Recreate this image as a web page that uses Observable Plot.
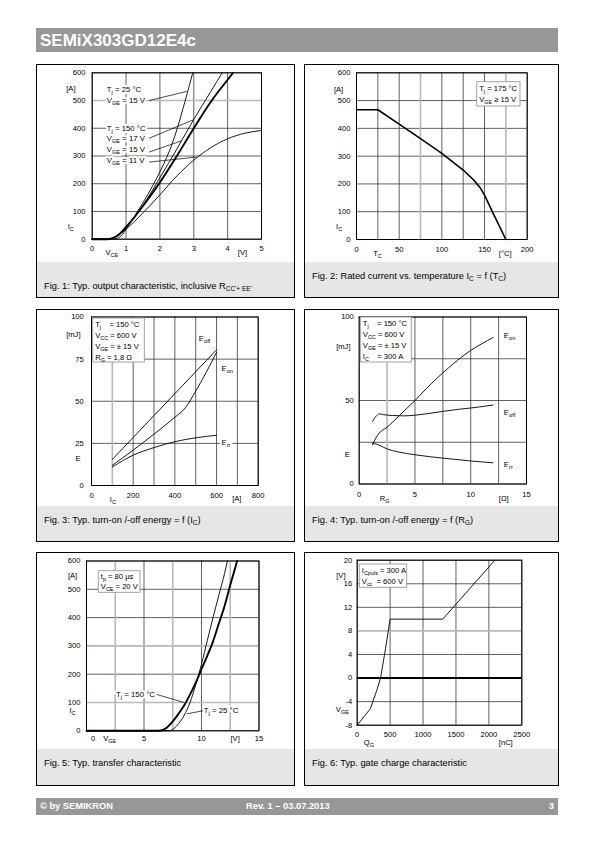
<!DOCTYPE html>
<html><head><meta charset="utf-8">
<script src="https://cdn.jsdelivr.net/npm/d3@7"></script>
<script src="https://cdn.jsdelivr.net/npm/@observablehq/plot@0.6"></script>
<style>
body{margin:0;background:#fff;}
#page{position:relative;width:595px;height:842px;font-family:"Liberation Sans",Arial,Helvetica,sans-serif;overflow:hidden;}
.bar{position:absolute;background:#979797;color:#fff;font-weight:bold;white-space:nowrap;}
.panel{position:absolute;border:1px solid #000;box-sizing:border-box;}
.band{position:absolute;left:0;right:0;bottom:0;background:#e6e6e6;}
.cap{position:absolute;left:7px;font-size:9.3px;color:#000;white-space:nowrap;line-height:10px;}
.cap sub{font-size:70%;vertical-align:-0.3em;line-height:0;}
.chart{position:absolute;}
.chart svg{overflow:visible;}
</style></head>
<body><div id="page"></div>
<script>
// ---------- DATA ----------
const title = "SEMiX303GD12E4c";
const footerLeft = "© by SEMIKRON", footerMid = "Rev. 1 – 03.07.2013", footerRight = "3";
const captions = [
  "Fig. 1: Typ. output characteristic, inclusive R<sub>CC'+ EE'</sub>",
  "Fig. 2: Rated current vs. temperature I<sub>C</sub> = f (T<sub>C</sub>)",
  "Fig. 3: Typ. turn-on /-off energy = f (I<sub>C</sub>)",
  "Fig. 4: Typ. turn-on /-off energy = f (R<sub>G</sub>)",
  "Fig. 5: Typ. transfer characteristic",
  "Fig. 6: Typ. gate charge characteristic"
];

// Fig 1: I_C [A] vs V_CE [V]
const f1Tj25V15 = [[0,0],[0.6,0],[0.75,4],[0.9,18],[1.0,36],[1.2,72],[1.4,112],[1.6,152],[1.8,196],[2.0,243],[2.2,295],[2.35,340],[2.5,395],[2.74,497],[2.97,600]];
const f1Tj150V17 = [[0,0],[0.45,0],[0.6,4],[0.8,18],[1.0,42],[1.25,80],[1.5,122],[2.0,222],[2.5,325],[3.0,432],[3.5,532],[3.84,600]];
const f1Tj150V15 = [[0,0],[0.45,0],[0.6,4],[0.8,18],[1.0,44],[1.25,80],[1.5,120],[2.0,205],[2.5,300],[3.0,400],[3.5,495],[4.0,575],[4.16,600]];
const f1Tj150V11 = [[0,0],[0.45,0],[0.6,4],[0.8,17],[1.0,36],[1.25,64],[1.5,95],[2.0,160],[2.5,228],[3.0,285],[3.5,330],[4.0,362],[4.5,382],[5.0,392]];
const f1Labels = [
  {x:0.43,y:538,text:"T_{j} = 25 °C"},{x:0.43,y:500,text:"V_{GE} = 15 V"},
  {x:0.43,y:400,text:"T_{j} = 150 °C"},{x:0.43,y:364,text:"V_{GE} = 17 V"},
  {x:0.43,y:323,text:"V_{GE} = 15 V"},{x:0.43,y:283,text:"V_{GE} = 11 V"}];
const f1Leaders = [{x1:1.68,y1:500,x2:2.8,y2:533},{x1:1.68,y1:364,x2:2.98,y2:430},{x1:1.68,y1:314,x2:2.62,y2:354},{x1:1.68,y1:278,x2:3.08,y2:296}];
const f1XTicks = [0,1,2,3,4,5], f1YTicks = [0,100,200,300,400,500,600];

// Fig 2: I_C [A] vs T_C [°C]
const f2Curve = [[0,467],[25,467],[50,415],[75,363],[100,310],[125,250],[137,215],[145,186],[150,160],[160,95],[175,0]];
const f2XTicks = [0,50,100,150,200], f2XGrid = [0,25,50,75,100,125,150,175,200], f2YTicks = [0,100,200,300,400,500,600];
const f2Legend = ["T_{j} = 175 °C","V_{GE} ≥ 15 V"];

// Fig 3: E [mJ] vs I_C [A]
const f3Eoff = [[100,15.5],[200,28.5],[300,41.5],[400,54.5],[500,67.5],[600,80.5]];
const f3Eon  = [[100,12],[200,21],[300,30.5],[400,40.5],[450,46],[500,56],[550,67],[600,79]];
const f3Err  = [[100,11],[200,18],[300,22.5],[400,26],[500,28.3],[600,29.8]];
const f3Labels = [{x:515,y:87.4,text:"E_{off}"},{x:624,y:69.6,text:"E_{on}"},{x:624,y:25.7,text:"E_{rr}"}];
const f3XTicks = [0,200,400,600,800], f3XGrid = [0,100,200,300,400,500,600,700,800], f3YTicks = [0,25,50,75,100];
const f3Legend = ["T_{j}\u00A0\u00A0\u00A0 = 150 °C","V_{CC} = 600 V","V_{GE} = ± 15 V","R_{G} = 1,8 Ω"];

// Fig 4: E [mJ] vs R_G [Ω]
const f4Eon  = [[1.2,23.5],[1.45,27],[1.8,30.5],[2.5,34],[3.0,37],[3.6,41],[4.3,45.5],[5,50],[6,57],[7,63.5],[8,69.5],[8.8,74],[10,80],[11,84],[12,87.7]];
const f4Eoff = [[1.2,37.5],[1.5,40.5],[1.8,42],[2.2,41.5],[3,41],[4,40.8],[5,41.2],[6,42],[7.5,43.5],[9,44.8],[10,45.5],[12,47.3]];
const f4Err  = [[1.2,24.5],[1.7,23.5],[2.5,21],[3.5,19.2],[5,17.5],[7.5,15.5],[10,13.8],[12,12.7]];
const f4Labels = [{x:12.97,y:88.9,text:"E_{on}"},{x:12.97,y:43,text:"E_{off}"},{x:12.97,y:11.5,text:"E_{rr}"}];
const f4XTicks = [0,5,10,15], f4XGrid = [0,2.5,5,7.5,10,12.5,15], f4YTicks = [0,50,100], f4YGrid = [0,25,50,75,100];
const f4Legend = ["T_{j}\u00A0\u00A0\u00A0 = 150 °C","V_{CC} = 600 V","V_{GE} = ± 15 V","I_{C}\u00A0\u00A0\u00A0 = 300 A"];

// Fig 5: I_C [A] vs V_GE [V]
const f5Tj150 = [[0,0],[6.3,0],[7.0,12],[7.5,33],[8.0,60],[8.5,90],[9.0,128],[9.5,170],[10.0,218],[10.5,265],[11.0,315],[11.5,378],[12.0,440],[12.5,515],[13.1,600]];
const f5Tj25  = [[0,0],[7.2,0],[7.6,8],[8.0,25],[8.5,55],[9.0,100],[9.5,163],[10.0,235],[10.5,318],[11.0,400],[11.5,478],[12.0,555],[12.25,600]];
const f5Labels = [{x:5.95,y:129,text:"T_{j} = 150 °C",anchor:"end"},{x:10.2,y:70.7,text:"T_{j} = 25 °C",anchor:"start"}];
const f5Leaders = [{x1:6.05,y1:129,x2:8.5,y2:100},{x1:10.15,y1:70.7,x2:8.72,y2:60}];
const f5XTicks = [5,10,15], f5XGrid = [0,2.5,5,7.5,10,12.5,15], f5YTicks = [0,100,200,300,400,500,600];
const f5Legend = ["t_{p} = 80 µs","V_{CE} = 20 V"];

// Fig 6: V_GE [V] vs Q_G [nC]
const f6Curve = [[0,-8],[200,-5.2],[300,-2],[355,0],[430,5],[500,10],[1300,10],[2090,20]];
const f6XTicks = [0,500,1000,1500,2000,2500], f6YTicks = [-8,-4,0,4,8,12,16,20];
const f6Legend = ["I_{Cpuls} = 300 A","V_{cc}\u00A0 = 600 V"];

// ---------- LAYOUT ----------
const FONT = '"Liberation Sans", Arial, Helvetica, sans-serif';
const page = document.getElementById("page");

function addDiv(cls, css, html) {
  const d = document.createElement("div");
  d.className = cls; Object.assign(d.style, css); if (html != null) d.innerHTML = html;
  page.appendChild(d); return d;
}
addDiv("bar", {left:"36px",top:"28px",width:"522px",height:"24px",fontSize:"17px",lineHeight:"25px",paddingLeft:"4px",boxSizing:"border-box"}, title);
const foot = addDiv("bar", {left:"36px",top:"798px",width:"522px",height:"17px",fontSize:"9.3px",lineHeight:"17px"});
foot.innerHTML = `<span style="position:absolute;left:4px">${footerLeft}</span><span style="position:absolute;left:210px">${footerMid}</span><span style="position:absolute;right:4px">${footerRight}</span>`;

const panels = [
  {x:36,y:64,w:259,h:234,band:263,capY:287},
  {x:304,y:64,w:255,h:234,band:263,capY:277},
  {x:36,y:309,w:259,h:233,band:507,capY:521},
  {x:304,y:309,w:255,h:233,band:507,capY:521},
  {x:36,y:552,w:259,h:234,band:750,capY:764},
  {x:304,y:552,w:255,h:234,band:750,capY:764}
];
panels.forEach((p,i) => {
  const d = addDiv("panel", {left:p.x+"px",top:p.y+"px",width:p.w+"px",height:p.h+"px"});
  const b = document.createElement("div"); b.className = "band";
  b.style.height = (p.y + p.h - p.band) + "px"; d.appendChild(b);
  const c = document.createElement("div"); c.className = "cap";
  c.style.top = (p.capY - p.band - 5) + "px"; c.innerHTML = captions[i]; b.appendChild(c);
});

// rich text: "_{...}" -> subscript tspans
function applySubs(root) {
  root.querySelectorAll("text").forEach(t => {
    const s = t.textContent;
    if (!s.includes("_{")) return;
    while (t.firstChild) t.removeChild(t.firstChild);
    const re = /_\{([^}]*)\}/g; let last = 0, m; const parts = [];
    while ((m = re.exec(s))) { if (m.index > last) parts.push([s.slice(last, m.index), false]); parts.push([m[1], true]); last = re.lastIndex; }
    if (last < s.length) parts.push([s.slice(last), false]);
    let shifted = false;
    for (const [txt, sub] of parts) {
      const ts = document.createElementNS("http://www.w3.org/2000/svg", "tspan");
      ts.textContent = txt;
      if (sub) { ts.setAttribute("font-size", "72%"); if (!shifted) { ts.setAttribute("dy", "2"); shifted = true; } }
      else if (shifted) { ts.setAttribute("dy", "-2"); shifted = false; }
      t.appendChild(ts);
    }
  });
  root.querySelectorAll('[stroke="white"]').forEach(e => {
    e.setAttribute("paint-order", "stroke");
    e.querySelectorAll("text").forEach(t => t.setAttribute("paint-order", "stroke"));
  });
}

function legendMark(mL, mT, mR, plotW, spec) {
  return () => {
    const g = d3.create("svg:g").attr("font-size", spec.fs || 7.6).attr("font-family", FONT).attr("text-anchor", "start");
    const x0 = spec.right != null ? mL + plotW - spec.right - spec.w : mL + spec.dx;
    const y0 = mT + spec.dy;
    g.append("rect").attr("x", x0).attr("y", y0).attr("width", spec.w).attr("height", spec.h)
      .attr("fill", "white").attr("stroke", "#999").attr("stroke-width", 0.9);
    spec.lines.forEach((ln, i) => {
      g.append("text").attr("x", x0 + 2.5).attr("y", y0 + spec.ly[i]).attr("dy", "0.35em").attr("fill", "black").text(ln);
    });
    return g.node();
  };
}

const curveOf = (data, sw, curve) => Plot.line(data, {x: d => d[0], y: d => d[1], stroke: "black", strokeWidth: sw, curve: curve || "monotone-x"});

function chart(cfg) {
  const p = panels[cfg.panel];
  const [L, T, R, B] = cfg.area;
  const width = p.w, height = cfg.band - p.y;
  const mL = L - p.x, mT = T - p.y, mR = p.x + p.w - R, mB = cfg.band - B;
  const plotW = R - L;
  const lightX = cfg.lightX || [], lightY = cfg.lightY || [];
  const fs = 7.6;
  const marks = [
    Plot.ruleX(cfg.gridX.filter(v => !lightX.includes(v)), {stroke: "#3a3a3a", strokeWidth: 0.8}),
    Plot.ruleY(cfg.gridY.filter(v => !lightY.includes(v)), {stroke: "#3a3a3a", strokeWidth: 0.8}),
    Plot.ruleX(lightX, {stroke: "#b8b8b8", strokeWidth: 1.6}),
    Plot.ruleY(lightY, {stroke: "#b8b8b8", strokeWidth: 1.6}),
    Plot.frame({stroke: "black", strokeWidth: 1}),
    Plot.text(cfg.tickX, {x: d => d, text: d => String(d), frameAnchor: "bottom", dy: cfg.tickXdy, fontSize: fs, fill: "black"}),
    Plot.text(cfg.tickY, {y: d => d, text: d => String(d), frameAnchor: "left", textAnchor: "end", dx: cfg.tickYdx, fontSize: fs, fill: "black"}),
    ...(cfg.extraTicks || []).map(t => Plot.text([t.text], {text: d => d, frameAnchor: "bottom-left", dx: t.dx, dy: cfg.tickXdy, fontSize: fs, fill: "black"})),
    ...cfg.units.map(u => Plot.text([u.t], {text: d => d, frameAnchor: u.a, textAnchor: u.ta, dx: u.dx, dy: u.dy, fontSize: fs, fill: "black"})),
    ...(cfg.marks || [])
  ];
  if (cfg.legend) marks.push(legendMark(mL, mT, mR, plotW, cfg.legend));
  const svg = Plot.plot({
    width, height, marginLeft: mL, marginRight: mR, marginTop: mT, marginBottom: mB,
    x: {domain: cfg.xDomain, axis: null}, y: {domain: cfg.yDomain, axis: null},
    style: {fontFamily: FONT, fontSize: fs + "px", background: "transparent", color: "black", overflow: "visible"},
    marks
  });
  applySubs(svg);
  const holder = addDiv("chart", {left: p.x + "px", top: p.y + "px", width: width + "px", height: height + "px"});
  holder.appendChild(svg);
}

const annot = (labels, anchor) => Plot.text(labels, {x: "x", y: "y", text: "text", textAnchor: anchor, fontSize: 7.8, fill: "black", stroke: "white", strokeWidth: 4});

// Fig 1
chart({panel: 0, band: 263, area: [91.7, 72.3, 261, 238.7], xDomain: [0, 5], yDomain: [0, 600],
  gridX: f1XTicks, gridY: f1YTicks, lightY: [500], tickX: f1XTicks, tickY: f1YTicks, tickXdy: 11.5, tickYdx: -6.7,
  units: [{t: "[A]", a: "top-left", ta: "end", dx: -16.7, dy: 12.7}, {t: "I_{C}", a: "bottom-left", ta: "end", dx: -18.4, dy: -10.7},
          {t: "V_{CE}", a: "bottom-left", ta: "start", dx: 13.3, dy: 16}, {t: "[V]", a: "bottom-right", ta: "start", dx: -23.7, dy: 15.3}],
  marks: [
    curveOf(f1Tj150V11, 0.9), curveOf(f1Tj25V15, 0.9), curveOf(f1Tj150V17, 0.9), curveOf(f1Tj150V15, 1.9),
    Plot.link(f1Leaders, {x1: "x1", y1: "y1", x2: "x2", y2: "y2", stroke: "black", strokeWidth: 0.7}),
    annot(f1Labels, "start")
  ]});

// Fig 2
chart({panel: 1, band: 263, area: [356, 72.3, 526.7, 239], xDomain: [0, 200], yDomain: [0, 600],
  gridX: f2XGrid, gridY: f2YTicks, lightX: [75, 175], tickX: f2XTicks, tickY: f2YTicks, tickXdy: 12.7, tickYdx: -6,
  units: [{t: "[A]", a: "top-left", ta: "end", dx: -13.3, dy: 13.7}, {t: "I_{C}", a: "bottom-left", ta: "end", dx: -14.3, dy: -10.7},
          {t: "T_{C}", a: "bottom-left", ta: "start", dx: 16.7, dy: 16}, {t: "[°C]", a: "bottom-right", ta: "start", dx: -28.4, dy: 16}],
  marks: [curveOf(f2Curve, 1.6, "linear")],
  legend: {right: 6.7, dy: 9.4, w: 43.3, h: 24.3, lines: f2Legend, ly: [6.5, 17.5]}});

// Fig 3
chart({panel: 2, band: 507, area: [91, 316.5, 257.7, 485], xDomain: [0, 800], yDomain: [0, 100],
  gridX: f3XGrid, gridY: f3YTicks, lightX: [100], tickX: f3XTicks, tickY: f3YTicks, tickXdy: 12.3, tickYdx: -7.7,
  units: [{t: "[mJ]", a: "top-left", ta: "end", dx: -11, dy: 14.5}, {t: "E", a: "bottom-left", ta: "end", dx: -11, dy: -25},
          {t: "I_{C}", a: "bottom-left", ta: "start", dx: 18.3, dy: 16}, {t: "[A]", a: "bottom-right", ta: "start", dx: -26, dy: 15}],
  marks: [curveOf(f3Eoff, 0.9), curveOf(f3Eon, 0.9), curveOf(f3Err, 0.9), annot(f3Labels, "start")],
  legend: {dx: 1.7, dy: 1.5, w: 51.6, h: 44, lines: f3Legend, ly: [6, 17, 28, 39]}});

// Fig 4
chart({panel: 3, band: 507, area: [358.7, 316.5, 526, 483.5], xDomain: [0, 15], yDomain: [0, 100],
  gridX: f4XGrid, gridY: f4YGrid, lightX: [2.5], tickX: f4XTicks, tickY: f4YTicks, tickXdy: 12.5, tickYdx: -5.4,
  units: [{t: "[mJ]", a: "top-left", ta: "end", dx: -8.7, dy: 26.8}, {t: "E", a: "bottom-left", ta: "end", dx: -9.4, dy: -27.5},
          {t: "R_{G}", a: "bottom-left", ta: "start", dx: 20.6, dy: 17}, {t: "[Ω]", a: "bottom-right", ta: "start", dx: -27.7, dy: 16.5}],
  marks: [curveOf(f4Eon, 0.9), curveOf(f4Eoff, 0.9), curveOf(f4Err, 0.9), annot(f4Labels, "start")],
  legend: {dx: 1.6, dy: 0.5, w: 51, h: 45, lines: f4Legend, ly: [6.5, 17.5, 28.5, 39.5]}});

// Fig 5
chart({panel: 4, band: 750, area: [86, 560.5, 258.5, 730.3], xDomain: [0, 15], yDomain: [0, 600],
  gridX: f5XGrid, gridY: f5YTicks, lightX: [2.5, 7.5, 12.5], lightY: [100, 300], tickX: f5XTicks, tickY: f5YTicks, tickXdy: 10, tickYdx: -6,
  extraTicks: [{text: "0", dx: 4.5}],
  units: [{t: "[A]", a: "top-left", ta: "end", dx: -9.3, dy: 11.5}, {t: "I_{C}", a: "bottom-left", ta: "end", dx: -11, dy: -18},
          {t: "V_{GE}", a: "bottom-left", ta: "start", dx: 16.7, dy: 10}, {t: "[V]", a: "bottom-right", ta: "start", dx: -28.5, dy: 10}],
  marks: [curveOf(f5Tj25, 0.9), curveOf(f5Tj150, 1.9),
    Plot.link(f5Leaders, {x1: "x1", y1: "y1", x2: "x2", y2: "y2", stroke: "black", strokeWidth: 0.7}),
    annot(f5Labels.filter(d => d.anchor === "end"), "end"), annot(f5Labels.filter(d => d.anchor === "start"), "start")],
  legend: {dx: 12.3, dy: 10.2, w: 41.7, h: 21.6, lines: f5Legend, ly: [6, 16]}});

// Fig 6
chart({panel: 5, band: 750, area: [356.7, 559.7, 521.3, 724.7], xDomain: [0, 2500], yDomain: [-8, 20],
  gridX: f6XTicks, gridY: f6YTicks, lightY: [8], tickX: f6XTicks, tickY: f6YTicks, tickXdy: 11.6, tickYdx: -5,
  units: [{t: "[V]", a: "top-left", ta: "end", dx: -11.7, dy: 12.3}, {t: "V_{GE}", a: "bottom-left", ta: "end", dx: -8.4, dy: -13.4},
          {t: "Q_{G}", a: "bottom-left", ta: "start", dx: 6.6, dy: 20}, {t: "[nC]", a: "bottom-right", ta: "start", dx: -23, dy: 20}],
  marks: [Plot.ruleY([0], {stroke: "black", strokeWidth: 2}), curveOf(f6Curve, 0.9, "linear")],
  legend: {dx: 2.6, dy: 4.3, w: 47.4, h: 23.3, lines: f6Legend, ly: [6.5, 17]}});
</script>
</body></html>
